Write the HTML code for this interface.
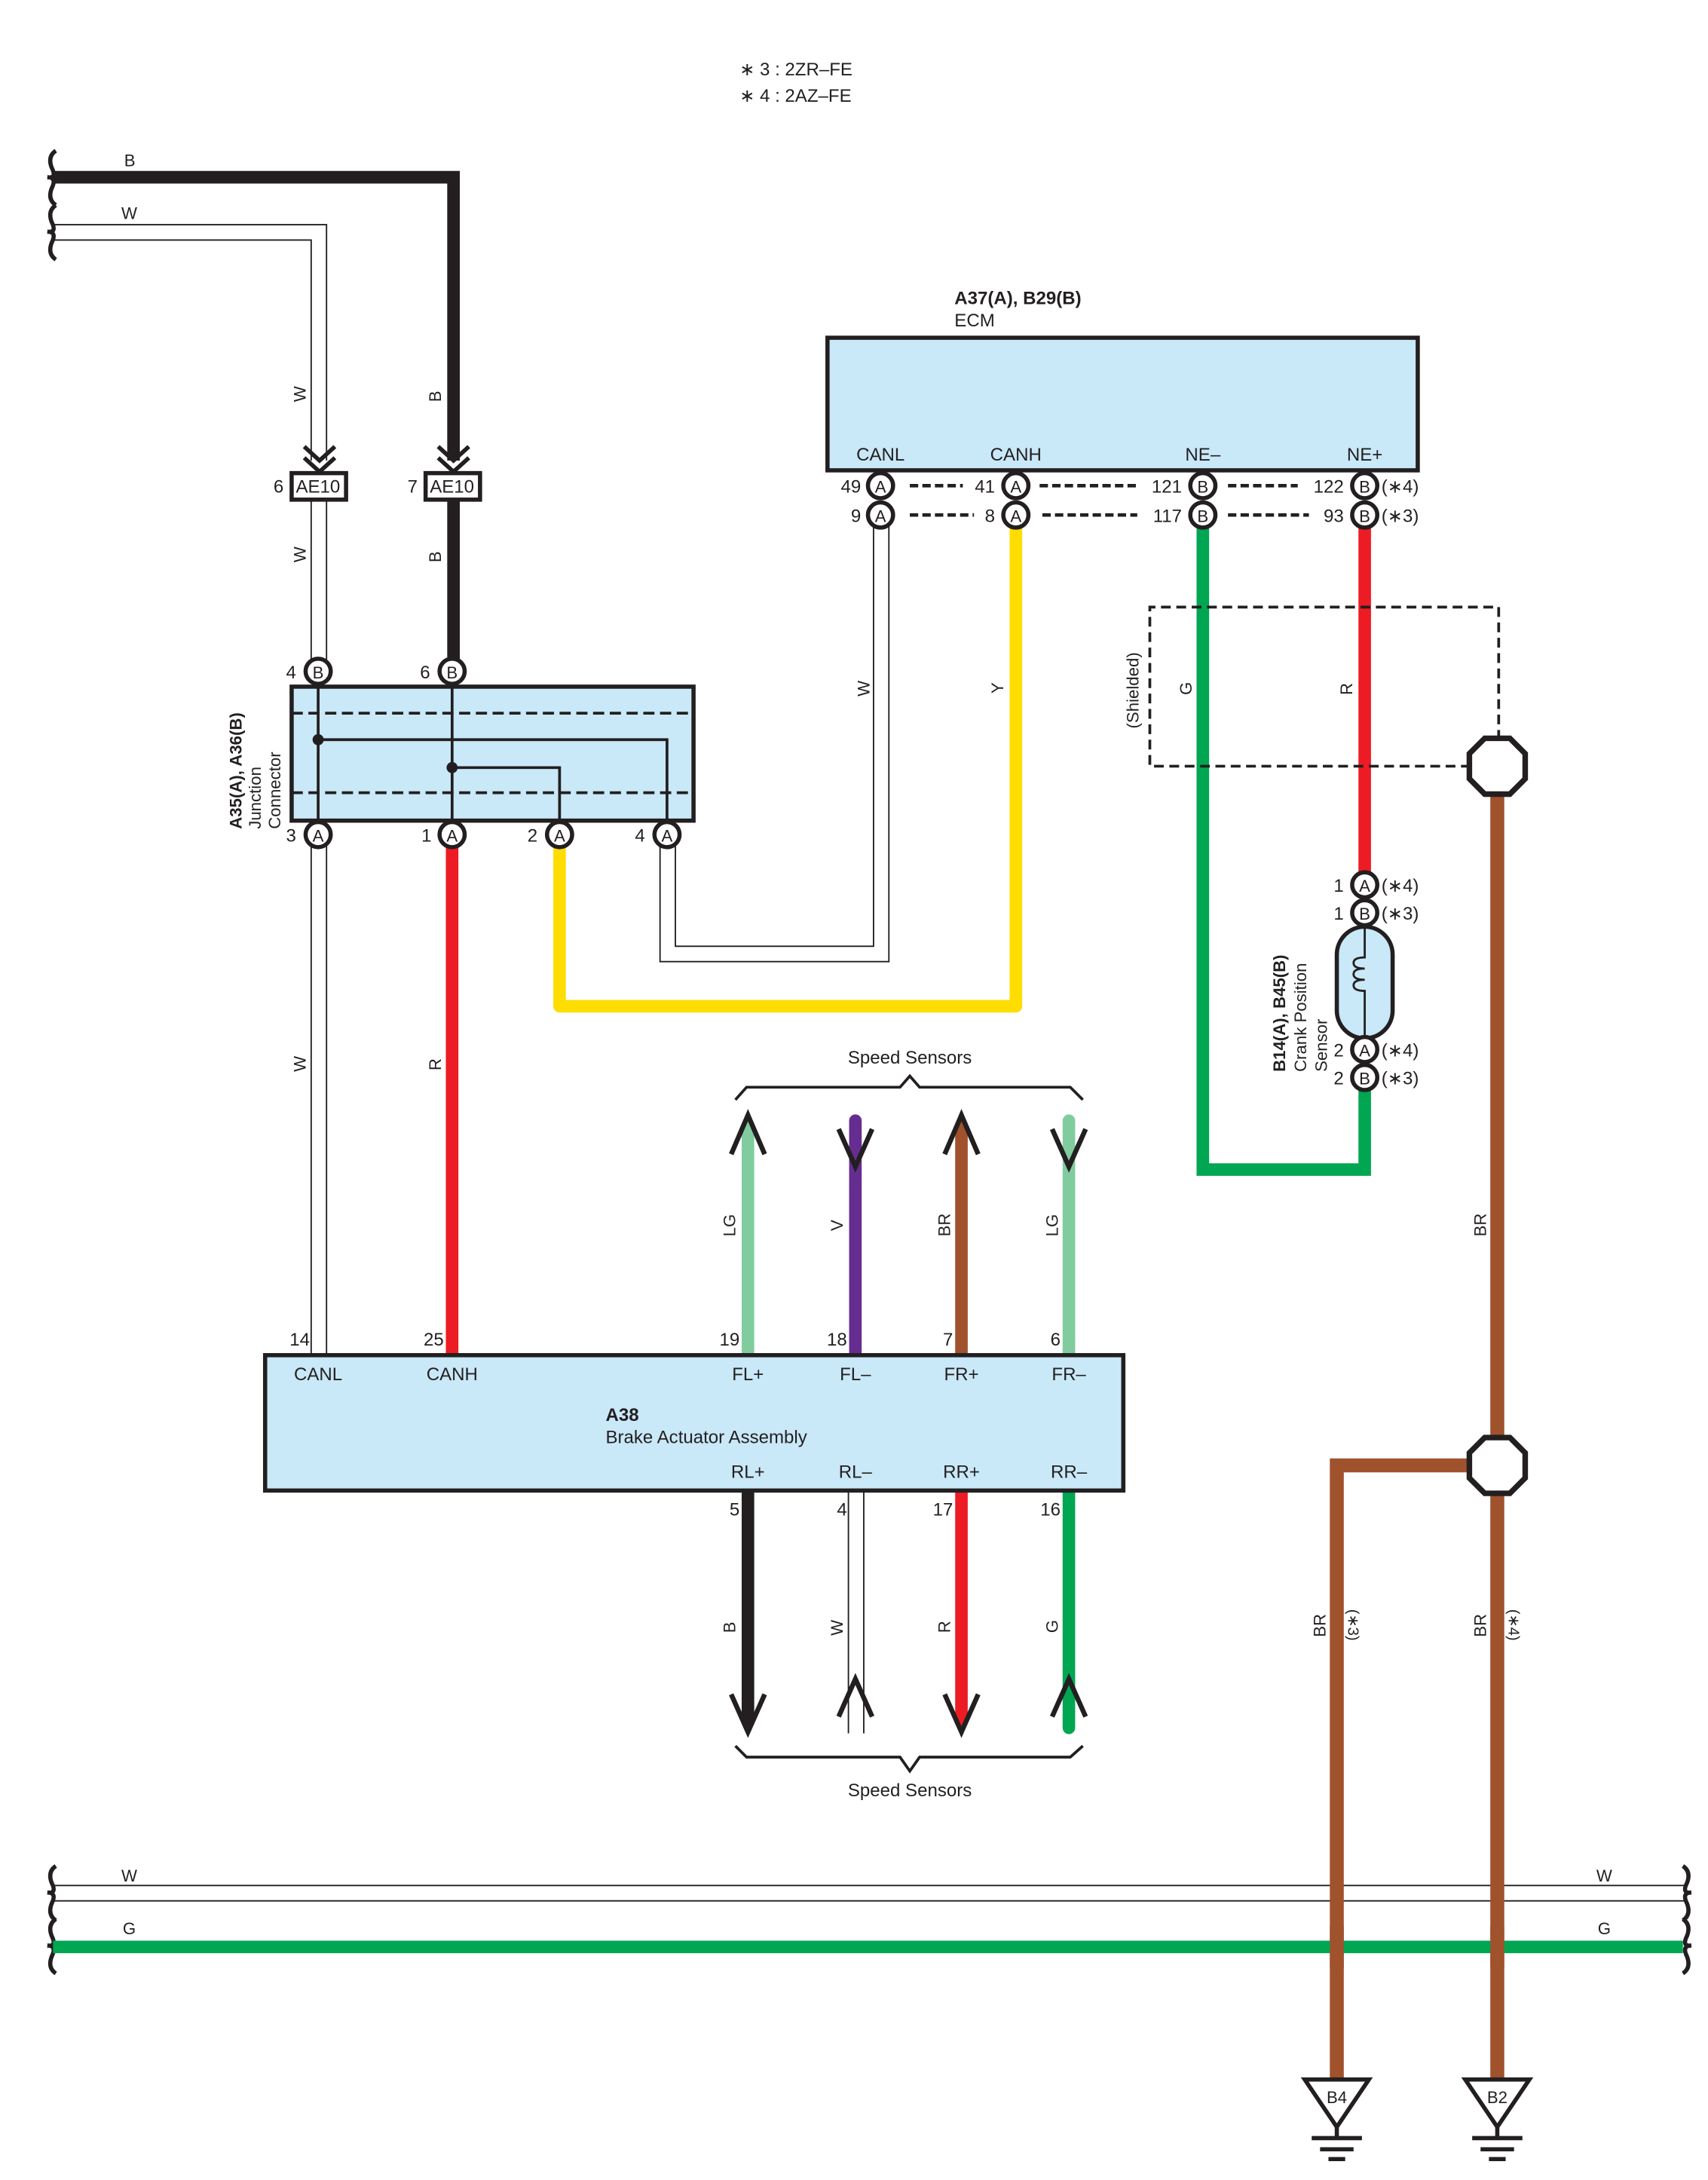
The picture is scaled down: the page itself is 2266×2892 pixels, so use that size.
<!DOCTYPE html>
<html><head><meta charset="utf-8"><style>html,body{margin:0;padding:0;background:#fff}svg{display:block}text{font-family:"Liberation Sans",sans-serif;fill:#231f20}</style></head><body>
<svg width="2266" height="2892" viewBox="0 0 1224 1562" preserveAspectRatio="none" xmlns="http://www.w3.org/2000/svg">
<defs>
<g id="pin"><circle r="9" fill="#fff" stroke="#231f20" stroke-width="3"/></g>
<g id="oct"><polygon points="-9,-20 9,-20 20,-9 20,9 9,20 -9,20 -20,9 -20,-9" fill="#fff" stroke="#231f20" stroke-width="4"/></g>
</defs>
<g font-size="13">
<text x="530" y="54">∗ 3 : 2ZR–FE</text>
<text x="530" y="73">∗ 4 : 2AZ–FE</text>
</g>
<!-- top left braces -->
<g fill="none" stroke="#231f20" stroke-width="3">
<path d="M40,108 q-6,4 -3,12 q4,8 -3,7 q7,0 3,8 q-3,8 3,12"/>
<path d="M40,147 q-6,4 -3,12 q4,8 -3,7 q7,0 3,8 q-3,8 3,12"/>
<path d="M40,1337 q-6,4 -3,12 q4,8 -3,7 q7,0 3,8 q-3,8 3,12"/>
<path d="M40,1375 q-6,4 -3,12 q4,8 -3,7 q7,0 3,8 q-3,8 3,12"/>
<path d="M1206,1337 q6,4 3,12 q-4,8 3,7 q-7,0 -3,8 q3,8 -3,12"/>
<path d="M1206,1375 q6,4 3,12 q-4,8 3,7 q-7,0 -3,8 q3,8 -3,12"/>
</g>
<!-- B wire -->
<path d="M38,127 H325 V330" fill="none" stroke="#231f20" stroke-width="9"/>
<path d="M325,357 V481" fill="none" stroke="#231f20" stroke-width="9"/>
<!-- W wire -->
<g fill="none" stroke="#231f20" stroke-width="1">
<path d="M38,161 H234 V330"/><path d="M38,172 H223 V330"/>
<path d="M223,357 V481"/><path d="M234,357 V481"/>
<path d="M223,598 V971"/><path d="M234,598 V971"/>
<path d="M473,598 V689 H637 V369"/><path d="M484,598 V678 H626 V369"/>
<path d="M38,1351 H1208"/><path d="M38,1362 H1208"/>
<path d="M608,1068 V1242"/><path d="M619,1068 V1242"/>
</g>
<!-- connector chevrons -->
<g fill="none" stroke="#231f20" stroke-width="3">
<path d="M218,320 l11,10 l11,-10 M218,328 l11,10 l11,-10"/>
<path d="M314,320 l11,10 l11,-10 M314,328 l11,10 l11,-10"/>
</g>
<rect x="209" y="339" width="39" height="19" fill="#fff" stroke="#231f20" stroke-width="3"/>
<rect x="305" y="339" width="39" height="19" fill="#fff" stroke="#231f20" stroke-width="3"/>
<g font-size="13"><text x="212" y="353">AE10</text><text x="308" y="353">AE10</text><text x="196" y="353">6</text><text x="292" y="353">7</text></g>
<g font-size="12">
<text transform="translate(219,288) rotate(-90)">W</text>
<text transform="translate(219,403) rotate(-90)">W</text>
<text transform="translate(219,768) rotate(-90)">W</text>
<text transform="translate(316,288) rotate(-90)">B</text>
<text transform="translate(316,403) rotate(-90)">B</text>
<text transform="translate(316,767) rotate(-90)">R</text>
<text x="89" y="119">B</text><text x="87" y="157">W</text>
<text x="87" y="1348">W</text><text x="88" y="1386">G</text>
<text x="1144" y="1348">W</text><text x="1145" y="1386">G</text>
</g>
<!-- red/yellow wires -->
<path d="M324,598 V971" stroke="#ed1c24" stroke-width="9" fill="none"/>
<path d="M401,598 V721 H728 V369" stroke="#ffdd00" stroke-width="9" fill="none" stroke-linejoin="round"/>
<!-- junction connector -->
<rect x="209" y="492" width="288" height="96" fill="#c9e8f8" stroke="#231f20" stroke-width="3"/>
<g stroke="#231f20" fill="none">
<path d="M209,511 H497 M209,568 H497" stroke-width="2" stroke-dasharray="8,4"/>
<path d="M228,481 V598 M324,481 V598 M228,530 H478 V598 M324,550 H401 V598" stroke-width="2"/>
</g>
<circle cx="228" cy="530" r="4" fill="#231f20"/><circle cx="324" cy="550" r="4" fill="#231f20"/>
<g font-size="12" text-anchor="middle">
<use href="#pin" x="228" y="481"/><text x="228" y="486">B</text>
<use href="#pin" x="324" y="481"/><text x="324" y="486">B</text>
<use href="#pin" x="228" y="598"/><text x="228" y="603">A</text>
<use href="#pin" x="324" y="598"/><text x="324" y="603">A</text>
<use href="#pin" x="401" y="598"/><text x="401" y="603">A</text>
<use href="#pin" x="478" y="598"/><text x="478" y="603">A</text>
</g>
<g font-size="13"><text x="205" y="486">4</text><text x="301" y="486">6</text><text x="205" y="603">3</text><text x="302" y="603">1</text><text x="378" y="603">2</text><text x="455" y="603">4</text></g>
<g font-size="12"><text transform="translate(173,594) rotate(-90)" font-weight="bold">A35(A), A36(B)</text>
<text transform="translate(187,594) rotate(-90)">Junction</text><text transform="translate(201,594) rotate(-90)">Connector</text></g>
<!-- ECM -->
<text x="684" y="218" font-size="13" font-weight="bold">A37(A), B29(B)</text>
<text x="684" y="234" font-size="13">ECM</text>
<rect x="593" y="242" width="423" height="95" fill="#c9e8f8" stroke="#231f20" stroke-width="3"/>
<g font-size="13" text-anchor="middle"><text x="631" y="330">CANL</text><text x="728" y="330">CANH</text><text x="862" y="330">NE–</text><text x="978" y="330">NE+</text></g>
<g stroke="#231f20" stroke-width="2.5" stroke-dasharray="6,3">
<path d="M652,348 H690 M745,348 H815 M880,348 H930"/>
<path d="M652,369 H698 M747,369 H815 M880,369 H938"/>
</g>
<!-- green/red NE wires -->
<path d="M862,369 V838 H978 V781" stroke="#00a651" stroke-width="9" fill="none"/>
<path d="M978,369 V625" stroke="#ed1c24" stroke-width="9" fill="none"/>
<g font-size="12" text-anchor="middle">
<use href="#pin" x="631" y="348"/><text x="631" y="353">A</text>
<use href="#pin" x="631" y="369"/><text x="631" y="374">A</text>
<use href="#pin" x="728" y="348"/><text x="728" y="353">A</text>
<use href="#pin" x="728" y="369"/><text x="728" y="374">A</text>
<use href="#pin" x="862" y="348"/><text x="862" y="353">B</text>
<use href="#pin" x="862" y="369"/><text x="862" y="374">B</text>
<use href="#pin" x="978" y="348"/><text x="978" y="353">B</text>
<use href="#pin" x="978" y="369"/><text x="978" y="374">B</text>
</g>
<g font-size="13" text-anchor="end"><text x="617" y="353">49</text><text x="617" y="374">9</text><text x="713" y="353">41</text><text x="713" y="374">8</text><text x="847" y="353">121</text><text x="847" y="374">117</text><text x="963" y="353">122</text><text x="963" y="374">93</text>
<text x="963" y="639">1</text><text x="963" y="659">1</text><text x="963" y="757">2</text><text x="963" y="777">2</text></g>
<g font-size="13"><text x="990" y="353">(∗4)</text><text x="990" y="374">(∗3)</text><text x="990" y="639">(∗4)</text><text x="990" y="659">(∗3)</text><text x="990" y="757">(∗4)</text><text x="990" y="777">(∗3)</text></g>
<g font-size="12">
<text transform="translate(623,499) rotate(-90)">W</text>
<text transform="translate(719,497) rotate(-90)">Y</text>
<text transform="translate(816,522) rotate(-90)">(Shielded)</text>
<text transform="translate(854,498) rotate(-90)">G</text>
<text transform="translate(969,498) rotate(-90)">R</text>
</g>
<!-- shield -->
<path d="M1054,549 H824 V435 H1074 V530" fill="none" stroke="#231f20" stroke-width="2" stroke-dasharray="7,4"/>
<!-- brown -->
<path d="M1073,569 V1490 M1053,1050 H958 V1490" stroke="#a0522d" stroke-width="10" fill="none"/>
<use href="#oct" x="1073" y="549"/><use href="#oct" x="1073" y="1050"/>
<!-- crank sensor -->
<rect x="958" y="664" width="40" height="80" rx="20" fill="#c9e8f8" stroke="#231f20" stroke-width="3"/>
<path d="M978,664 V686 q-8,0 -8,4 q0,4 8,4 q-8,0 -8,4 q0,4 8,4 q-8,0 -8,4 q0,4 8,4 q-4,0 0,0 V744" fill="none" stroke="#231f20" stroke-width="1.5"/>
<g font-size="12" text-anchor="middle">
<use href="#pin" x="978" y="634"/><text x="978" y="639">A</text>
<use href="#pin" x="978" y="654"/><text x="978" y="659">B</text>
<use href="#pin" x="978" y="752"/><text x="978" y="757">A</text>
<use href="#pin" x="978" y="772"/><text x="978" y="777">B</text>
</g>
<g font-size="12"><text transform="translate(921,768) rotate(-90)" font-weight="bold">B14(A), B45(B)</text>
<text transform="translate(936,768) rotate(-90)">Crank Position</text><text transform="translate(951,768) rotate(-90)">Sensor</text>
<text transform="translate(1065,886) rotate(-90)">BR</text>
<text transform="translate(950,1173) rotate(-90)">BR</text>
<text transform="translate(1065,1173) rotate(-90)">BR</text>
<text transform="translate(966,1153) rotate(90)" font-size="11">(∗3)</text>
<text transform="translate(1081,1153) rotate(90)" font-size="11">(∗4)</text>
</g>
<!-- green bottom -->
<path d="M38,1395 H1206" stroke="#00a651" stroke-width="9"/>
<path d="M958,1380 V1410 M1073,1380 V1410" stroke="#a0522d" stroke-width="10"/>
<!-- grounds -->
<g stroke="#231f20" stroke-width="3" fill="#fff">
<polygon points="935,1490 981,1490 958,1524"/><polygon points="1050,1490 1096,1490 1073,1524"/>
<path d="M958,1524 V1532 M940,1532 H976 M946,1540 H970 M952,1547 H964 M1073,1524 V1532 M1055,1532 H1091 M1061,1540 H1085 M1067,1547 H1079"/>
</g>
<g font-size="12" text-anchor="middle"><text x="958" y="1507">B4</text><text x="1073" y="1507">B2</text></g>
<!-- speed sensor wires -->
<g fill="none" stroke-linecap="round">
<path d="M536,806 V971" stroke="#80cc9f" stroke-width="9"/>
<path d="M613,803 V971" stroke="#662d91" stroke-width="9"/>
<path d="M689,806 V971" stroke="#a0522d" stroke-width="9"/>
<path d="M766,803 V971" stroke="#80cc9f" stroke-width="9"/>
<path d="M536,1068 V1232" stroke="#231f20" stroke-width="9"/>
<path d="M689,1068 V1232" stroke="#ed1c24" stroke-width="9"/>
<path d="M766,1068 V1238" stroke="#00a651" stroke-width="9"/>
</g>
<g fill="none" stroke="#231f20" stroke-width="3.5">
<path d="M524,827 L536,799 L548,827"/>
<path d="M601,809 L613,836 L625,809"/>
<path d="M677,827 L689,799 L701,827"/>
<path d="M754,809 L766,836 L778,809"/>
<path d="M524,1214 L536,1241 L548,1214"/>
<path d="M601,1230 L613,1203 L625,1230"/>
<path d="M677,1214 L689,1241 L701,1214"/>
<path d="M754,1230 L766,1203 L778,1230"/>
<path d="M527,788 L535,779 H645 L652,771 L659,779 H767 L776,788" stroke-width="2"/>
<path d="M527,1251 L535,1259 H645 L652,1269 L659,1259 H767 L776,1251" stroke-width="2"/>
</g>
<g font-size="13" text-anchor="middle"><text x="652" y="762">Speed Sensors</text><text x="652" y="1287">Speed Sensors</text></g>
<g font-size="12">
<text transform="translate(527,886) rotate(-90)">LG</text>
<text transform="translate(604,882) rotate(-90)">V</text>
<text transform="translate(681,886) rotate(-90)">BR</text>
<text transform="translate(758,886) rotate(-90)">LG</text>
<text transform="translate(527,1170) rotate(-90)">B</text>
<text transform="translate(604,1172) rotate(-90)">W</text>
<text transform="translate(681,1170) rotate(-90)">R</text>
<text transform="translate(758,1170) rotate(-90)">G</text>
</g>
<!-- brake actuator -->
<rect x="190" y="971" width="615" height="97" fill="#c9e8f8" stroke="#231f20" stroke-width="3"/>
<g font-size="13" text-anchor="middle">
<text x="228" y="989">CANL</text><text x="324" y="989">CANH</text><text x="536" y="989">FL+</text><text x="613" y="989">FL–</text><text x="689" y="989">FR+</text><text x="766" y="989">FR–</text>
<text x="536" y="1059">RL+</text><text x="613" y="1059">RL–</text><text x="689" y="1059">RR+</text><text x="766" y="1059">RR–</text>
</g>
<text x="434" y="1018" font-size="13" font-weight="bold">A38</text>
<text x="434" y="1034" font-size="13">Brake Actuator Assembly</text>
<g font-size="13" text-anchor="end">
<text x="222" y="964">14</text><text x="318" y="964">25</text><text x="530" y="964">19</text><text x="607" y="964">18</text><text x="683" y="964">7</text><text x="760" y="964">6</text>
<text x="530" y="1086">5</text><text x="607" y="1086">4</text><text x="683" y="1086">17</text><text x="760" y="1086">16</text>
</g>
</svg>
</body></html>
